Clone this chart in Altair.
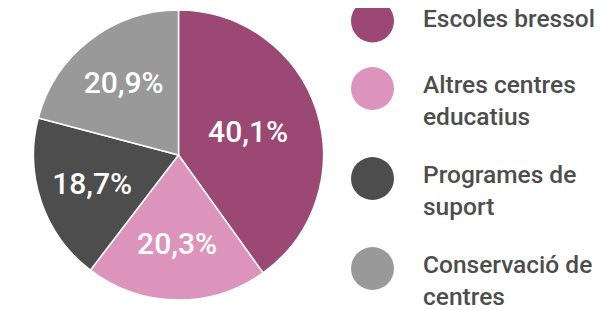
import math
import altair as alt
import pandas as pd

# Data
categories = ["Escoles bressol", "Altres centres educatius", "Programes de suport", "Conservació de centres"]
legend_labels = ["Escoles bressol", "Altres centres\neducatius", "Programes de\nsuport", "Conservació de\ncentres"]
values = [40.1, 20.3, 18.7, 20.9]
value_labels = ["40,1%", "20,3%", "18,7%", "20,9%"]
colors = ["#9B4874", "#DC94BC", "#4D4D4D", "#999999"]

W, H = 590, 302
CX, CY, R = 170.5, 147, 145
total = sum(values)

# label position: centroid of each sector (mid angle, centroid distance)
half_angles = [math.pi * v / total for v in values]
label_r = [2 * R * math.sin(a) / (3 * a) for a in half_angles]
mids = []
acc = 0.0
for v in values:
    mids.append(acc + v / 2)
    acc += v

pie_df = pd.DataFrame({
    "cat": categories,
    "value": values,
    "label": value_labels,
    "order": list(range(len(categories))),
    "lr": label_r,
    "mid": mids,
})

# legend layout derived from line counts (baselines of the first line)
line_counts = [lbl.count("\n") + 1 for lbl in legend_labels]
bases = []
y = 19
for n in line_counts:
    bases.append(y)
    y += 42 + 24 * n
leg_df = pd.DataFrame({
    "cat": categories,
    "text": legend_labels,
    "ty": bases,
    "cy": [b - 6 + (1.5 if n > 1 else 0) for b, n in zip(bases, line_counts)],
})

color = alt.Color("cat:N", scale=alt.Scale(domain=categories, range=colors), legend=None)
yscale = alt.Scale(domain=[0, H], range=[0, H], nice=False, zero=False)
tscale = alt.Scale(domain=[0, total])

arcs = alt.Chart(pie_df).mark_arc(outerRadius=R, stroke="white", strokeWidth=1.5).encode(
    theta=alt.Theta("value:Q", stack=True, scale=tscale),
    order=alt.Order("order:Q"),
    color=color,
    x=alt.value(CX),
    y=alt.value(CY),
)

labels = alt.Chart(pie_df).mark_text(
    fontSize=30, font="Roboto", fontWeight=500, color="white",
    align="center", baseline="middle"
).encode(
    theta=alt.Theta("mid:Q", stack=None, scale=tscale),
    radius=alt.Radius("lr:Q", scale=None),
    text="label:N",
    x=alt.value(CX),
    y=alt.value(CY),
)

leg_pts = alt.Chart(leg_df).mark_point(filled=True, shape="circle", size=1849, opacity=1).encode(
    x=alt.value(364.5),
    y=alt.Y("cy:Q", scale=yscale, axis=None),
    color=color,
)

leg_txt = alt.Chart(leg_df).mark_text(
    align="left", baseline="alphabetic", fontSize=24.5, font="Roboto", fontWeight=500, color="#4D4D4D",
    lineBreak="\n", lineHeight=32,
).encode(
    x=alt.value(415),
    y=alt.Y("ty:Q", scale=yscale, axis=None),
    text="text:N",
)

chart = alt.layer(arcs, labels, leg_pts, leg_txt).resolve_scale(theta="independent").properties(
    width=W, height=H, autosize="none", padding=0
).configure_view(stroke=None)

chart.save("out.html", embed_options={"renderer": "svg", "actions": False})
